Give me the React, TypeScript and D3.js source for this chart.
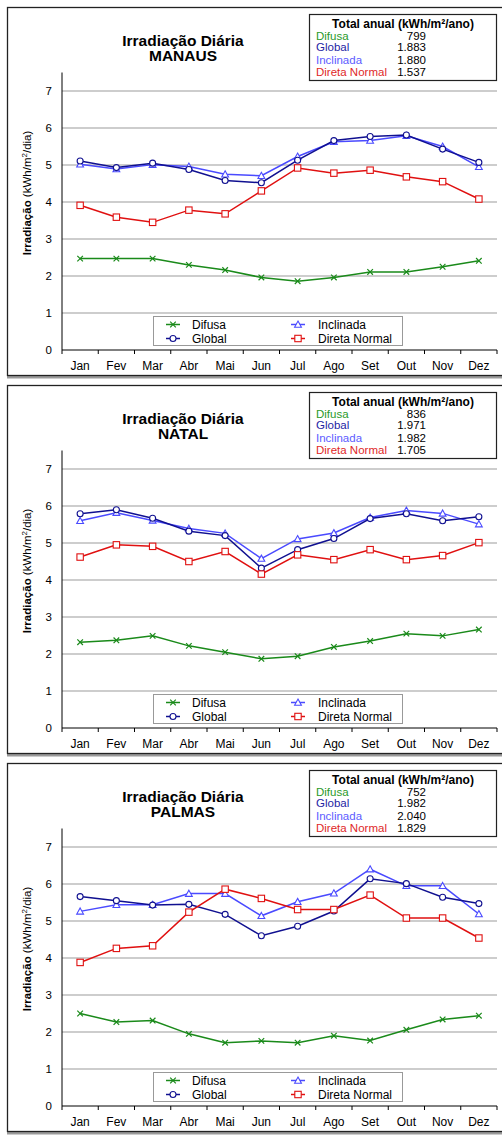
import React from "react";
import * as d3 from "d3";

const months = ["Jan", "Fev", "Mar", "Abr", "Mai", "Jun", "Jul", "Ago", "Set", "Out", "Nov", "Dez"];
const cities = ["MANAUS", "NATAL", "PALMAS"];
const seriesNames = ["Difusa", "Global", "Inclinada", "Direta Normal"];
const yTicks = [0, 1, 2, 3, 4, 5, 6, 7];

// MANAUS
const manausDifusa = [2.47, 2.47, 2.47, 2.30, 2.16, 1.96, 1.86, 1.96, 2.11, 2.11, 2.25, 2.41];
const manausGlobal = [5.11, 4.93, 5.05, 4.88, 4.58, 4.52, 5.13, 5.66, 5.77, 5.81, 5.43, 5.07];
const manausInclinada = [5.02, 4.89, 5.01, 4.96, 4.75, 4.71, 5.23, 5.63, 5.66, 5.79, 5.50, 4.95];
const manausDireta = [3.91, 3.59, 3.45, 3.78, 3.68, 4.30, 4.92, 4.78, 4.86, 4.68, 4.55, 4.08];
const manausTotals = ["799", "1.883", "1.880", "1.537"];

// NATAL
const natalDifusa = [2.32, 2.37, 2.49, 2.22, 2.05, 1.87, 1.94, 2.19, 2.35, 2.55, 2.49, 2.66];
const natalGlobal = [5.79, 5.90, 5.67, 5.32, 5.20, 4.32, 4.82, 5.12, 5.66, 5.79, 5.60, 5.71];
const natalInclinada = [5.60, 5.82, 5.61, 5.39, 5.26, 4.58, 5.11, 5.27, 5.69, 5.88, 5.80, 5.51];
const natalDireta = [4.62, 4.95, 4.91, 4.50, 4.77, 4.16, 4.68, 4.55, 4.82, 4.55, 4.66, 5.01];
const natalTotals = ["836", "1.971", "1.982", "1.705"];

// PALMAS
const palmasDifusa = [2.50, 2.27, 2.31, 1.95, 1.71, 1.76, 1.71, 1.90, 1.77, 2.06, 2.34, 2.44];
const palmasGlobal = [5.66, 5.55, 5.43, 5.45, 5.18, 4.60, 4.86, 5.27, 6.14, 6.01, 5.64, 5.47];
const palmasInclinada = [5.26, 5.44, 5.44, 5.74, 5.74, 5.14, 5.52, 5.75, 6.40, 5.95, 5.95, 5.19];
const palmasDireta = [3.88, 4.26, 4.33, 5.24, 5.86, 5.61, 5.31, 5.31, 5.70, 5.08, 5.08, 4.54];
const palmasTotals = ["752", "1.982", "2.040", "1.829"];

const cityData = [
  [manausDifusa, manausGlobal, manausInclinada, manausDireta],
  [natalDifusa, natalGlobal, natalInclinada, natalDireta],
  [palmasDifusa, palmasGlobal, palmasInclinada, palmasDireta],
];
const cityTotals = [manausTotals, natalTotals, palmasTotals];

const lineColors = ["#1a8a1a", "#101090", "#4a4aff", "#e01010"];
const textColors = ["#2a9a2a", "#2424a4", "#5c5cff", "#e02828"];
const markerTypes = ["x", "circle", "triangle", "square"];

const FONT = "'Liberation Sans', Arial, Helvetica, sans-serif";
const PANEL_STEP = 378;

function Marker({ type, x, y, color }: { type: string; x: number; y: number; color: string }) {
  if (type === "circle") {
    return <circle cx={x} cy={y} r={3} fill="#fff" stroke={color} strokeWidth={1.1} />;
  }
  if (type === "triangle") {
    const s = 3.4;
    return (
      <path
        d={`M${x},${y - s} L${x + s},${y + s * 0.8} L${x - s},${y + s * 0.8} Z`}
        fill="#fff"
        stroke={color}
        strokeWidth={1.1}
      />
    );
  }
  if (type === "square") {
    return <rect x={x - 3.2} y={y - 3.2} width={6.4} height={6.4} fill="#fff" stroke={color} strokeWidth={1.1} />;
  }
  const s = 2.8;
  return (
    <path
      d={`M${x - s},${y - s} L${x + s},${y + s} M${x - s},${y + s} L${x + s},${y - s}`}
      stroke={color}
      strokeWidth={1.2}
      fill="none"
    />
  );
}

function Panel({ idx }: { idx: number }) {
  const x = d3.scaleBand<string>().domain(months).range([62, 497]);
  const y = d3.scaleLinear().domain([0, 7.5]).range([350, 72.5]);
  const cx = (m: string) => (x(m) as number) + x.bandwidth() / 2;
  const line = d3
    .line<number>()
    .x((_, i) => cx(months[i]))
    .y((v) => y(v));
  const data = cityData[idx];
  const totals = cityTotals[idx];
  const boundaries = d3.range(13).map((i) => 62 + i * x.bandwidth());
  const drawOrder = [0, 2, 1, 3];

  return (
    <g transform={`translate(0, ${idx * PANEL_STEP})`} fontFamily={FONT}>
      {/* panel frame */}
      <rect x={7} y={376} width={520} height={2.5} fill="#9a9a9a" />
      <rect x={7.5} y={7.5} width={520} height={368} fill="#fff" stroke="#222" strokeWidth={1.3} />

      {/* title */}
      <text x={183} y={45.5} textAnchor="middle" fontWeight="bold" fontSize={15.5} fill="#000">
        Irradiação Diária
      </text>
      <text x={183} y={60.5} textAnchor="middle" fontWeight="bold" fontSize={15.5} fill="#000">
        {cities[idx]}
      </text>

      {/* grid */}
      {yTicks
        .filter((t) => t > 0)
        .map((t) => (
          <line key={t} x1={62} x2={497} y1={y(t)} y2={y(t)} stroke="#bdbdbd" strokeWidth={1.4} />
        ))}
      {yTicks.map((t) => (
        <text key={t} x={52} y={y(t)} dy="0.35em" textAnchor="end" fontSize={11.5} fill="#000">
          {t}
        </text>
      ))}

      {/* axes */}
      <line x1={62} x2={62} y1={y(7.5)} y2={y(0)} stroke="#000" strokeWidth={1} />
      <line x1={62} x2={497} y1={y(0)} y2={y(0)} stroke="#000" strokeWidth={1} />
      {boundaries.map((b, i) => (
        <line key={i} x1={b} x2={b} y1={y(0)} y2={y(0) + 4} stroke="#000" strokeWidth={1} />
      ))}
      {months.map((m) => (
        <text key={m} x={cx(m)} y={370} textAnchor="middle" fontSize={12} fill="#000">
          {m}
        </text>
      ))}

      {/* y axis title */}
      <text transform={`translate(31, 193) rotate(-90)`} textAnchor="middle" fontSize={11.5} fill="#000">
        <tspan fontWeight="bold">Irradiação</tspan>
        <tspan> (kWh/m</tspan>
        <tspan fontSize={8} dy={-4}>2</tspan>
        <tspan dy={4}>/dia)</tspan>
      </text>

      {/* series */}
      {drawOrder.map((s) => (
        <g key={s}>
          <path d={line(data[s]) || ""} fill="none" stroke={lineColors[s]} strokeWidth={1.5} />
          {data[s].map((v, i) => (
            <Marker key={i} type={markerTypes[s]} x={cx(months[i])} y={y(v)} color={lineColors[s]} />
          ))}
        </g>
      ))}

      {/* inner legend */}
      <rect x={153.5} y={316.5} width={249} height={29} fill="#fff" stroke="#999" strokeWidth={1} />
      {seriesNames.map((name, s) => {
        const col = s === 0 || s === 1 ? 0 : 1;
        const row = s === 0 || s === 2 ? 0 : 1;
        const lx = col === 0 ? 166 : 291;
        const tx = col === 0 ? 192 : 318;
        const ly = row === 0 ? 324.5 : 338.5;
        return (
          <g key={name}>
            <line x1={lx} x2={lx + 14} y1={ly} y2={ly} stroke={lineColors[s]} strokeWidth={1.5} />
            <Marker type={markerTypes[s]} x={lx + 7} y={ly} color={lineColors[s]} />
            <text x={tx} y={ly + 4.3} fontSize={12} fill="#000">
              {name}
            </text>
          </g>
        );
      })}

      {/* annual totals box */}
      <rect x={309.5} y={14.5} width={187} height={66} fill="#fff" stroke="#222" strokeWidth={1.2} />
      <text x={403} y={28} textAnchor="middle" fontWeight="bold" fontSize={12} fill="#000">
        Total anual (kWh/m²/ano)
      </text>
      {seriesNames.map((name, s) => {
        const by = [39.5, 51, 63.5, 75.5][s];
        return (
          <g key={name}>
            <text x={316} y={by} fontSize={11.5} fill={textColors[s]}>
              {name}
            </text>
            <text x={426} y={by} fontSize={11.5} textAnchor="end" fill="#000">
              {totals[s]}
            </text>
          </g>
        );
      })}
    </g>
  );
}

export default function App() {
  return (
    <svg
      width={502}
      height={1135}
      style={{ position: "absolute", left: 0, top: 0, background: "#fff" }}
    >
      <rect width={502} height={1135} fill="#fff" />
      {[0, 1, 2].map((i) => (
        <Panel key={i} idx={i} />
      ))}
    </svg>
  );
}
